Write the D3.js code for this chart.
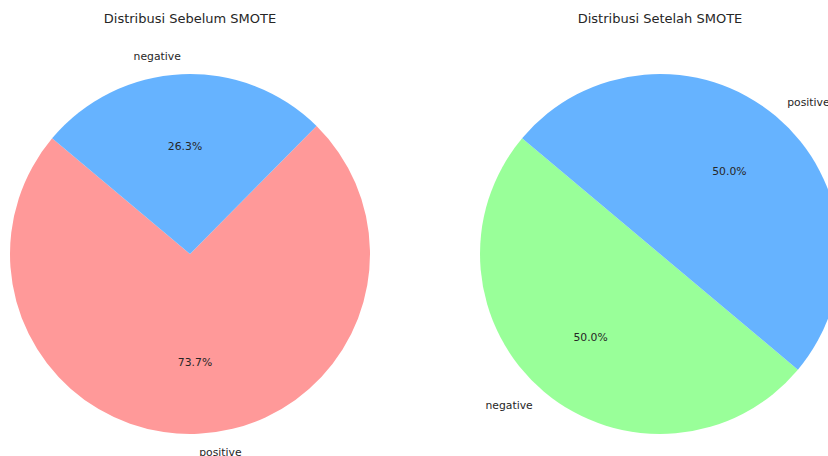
<!DOCTYPE html>
<html><head><meta charset="utf-8">
<script src="https://cdn.jsdelivr.net/npm/d3@7"></script>
<style>body{margin:0;background:#fff;overflow:hidden}svg{display:block}text{font-family:"DejaVu Sans",sans-serif;fill:#262626}</style>
</head><body>
<script>
const titles = ["Distribusi Sebelum SMOTE", "Distribusi Setelah SMOTE"];
const beforeLabels = ["positive", "negative"];
const beforeValues = [73.7, 26.3];
const beforeColors = ["#ff9999", "#66b3ff"];
const afterLabels = ["negative", "positive"];
const afterValues = [50.0, 50.0];
const afterColors = ["#99ff99", "#66b3ff"];
const startAngleDeg = 140;

const W = 828, H = 456;
const svg = d3.select("body").append("svg").attr("width", W).attr("height", H);

const charts = [
  {title: titles[0], labels: beforeLabels, values: beforeValues, colors: beforeColors, cx: 190, cy: 254},
  {title: titles[1], labels: afterLabels, values: afterValues, colors: afterColors, cx: 660, cy: 254}
];
const R = 180;

charts.forEach(c => {
  const g = svg.append("g").attr("transform", `translate(${c.cx},${c.cy})`);
  const total = d3.sum(c.values);
  const start = (90 - startAngleDeg) * Math.PI / 180;
  const pie = d3.pie().sort(null).value(d => d)
    .startAngle(start).endAngle(start - 2 * Math.PI);
  const arcs = pie(c.values);
  const arc = d3.arc().innerRadius(0).outerRadius(R);
  g.selectAll("path").data(arcs).join("path")
    .attr("d", arc).attr("fill", (d, i) => c.colors[i]);
  arcs.forEach((d, i) => {
    const mid = (d.startAngle + d.endAngle) / 2;
    const x = Math.sin(mid), y = -Math.cos(mid);
    g.append("text").attr("x", x * R * 1.1).attr("y", y * R * 1.1)
      .attr("dy", "0.35em").attr("font-size", 10.8)
      .attr("text-anchor", x >= 0 ? "start" : "end").text(c.labels[i]);
    g.append("text").attr("x", x * R * 0.6).attr("y", y * R * 0.6)
      .attr("dy", "0.35em").attr("font-size", 10.8)
      .attr("text-anchor", "middle").text((c.values[i] / total * 100).toFixed(1) + "%");
  });
  svg.append("text").attr("x", c.cx).attr("y", 18).attr("dy", "0.35em")
    .attr("font-size", 13).attr("text-anchor", "middle").text(c.title);
});
</script>
</body></html>
